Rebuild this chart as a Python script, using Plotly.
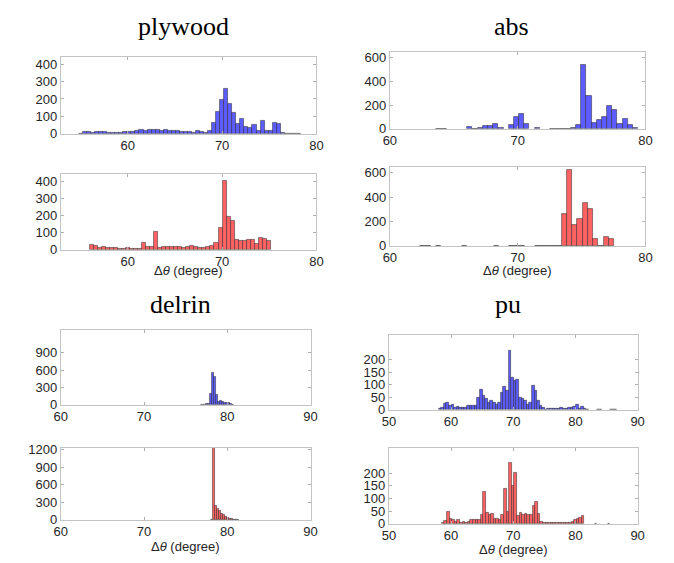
import plotly.graph_objects as go

# ---------------- data (histogram counts, bin start, bin width) ----------------
ply_blue_start, ply_blue_width = 54.8, 0.428
ply_blue = [3, 10, 9, 8, 12, 12, 9, 8, 8, 5, 8, 9, 10, 12, 18, 25, 20, 22, 24, 22,
            18, 25, 18, 15, 20, 14, 10, 12, 8, 15, 10, 8, 18,
            65, 127, 197, 259, 175, 122, 60, 88, 41, 37, 54, 20, 76, 15, 19, 61, 58, 7, 2,
            1, 1, 1]
ply_red_start, ply_red_width = 56.0, 0.425
ply_red = [32, 22, 12, 15, 10, 10, 10, 6, 6, 12, 8, 6, 8, 40, 15, 15, 105, 10, 15, 15,
           15, 15, 15, 10, 15, 22, 15, 10, 10, 15, 22, 40, 130, 405, 195, 168, 60, 50, 50, 58,
           60, 33, 72, 65, 50]

abs_blue_start, abs_blue_width = 62.0, 0.405
abs_blue = [0, 0, 0, 0, 2, 2, 0, 0, 0, 0, 15, 3, 8, 25, 25, 45, 10, 0, 30, 100,
            125, 40, 0, 10, 0, 0, 1, 1, 2, 3, 5, 35, 540, 280, 50, 80, 105, 190, 160, 45,
            85, 30, 5]
abs_red_start, abs_red_width = 61.95, 0.41
abs_red = [0, 3, 3, 0, 3, 0, 0, 0, 0, 3, 0, 0, 0, 0, 0, 3, 0, 0, 3, 3,
           3, 0, 0, 2, 2, 2, 2, 2, 260, 625, 175, 225, 350, 300, 55, 3, 70, 60]

delrin_blue_start, delrin_blue_width = 76.76, 0.24
delrin_blue = [5, 8, 10, 12, 20, 200, 550, 490, 180, 60, 70, 55, 35, 30, 35, 20, 8]
delrin_red_start, delrin_red_width = 78.0, 0.24
delrin_red = [5, 1260, 240, 190, 150, 110, 80, 55, 35, 20, 12, 8, 5, 3]

pu_blue_start, pu_blue_width = 57.97, 0.417
pu_blue = [5, 8, 25, 27, 15, 20, 8, 12, 10, 10, 8, 15, 17, 18, 18, 50, 80, 55, 43, 30,
           35, 28, 22, 30, 67, 92, 78, 237, 128, 118, 122, 47, 45, 35, 22, 30, 96, 78, 38, 15,
           8, 2, 3, 5, 4, 5, 3, 8, 5, 3, 8, 8, 12, 20, 5, 12, 3, 1,
           0, 0, 0, 1, 1, 0, 0, 0, 1, 1, 1]
pu_red_start, pu_red_width = 58.5, 0.417
pu_red = [3, 12, 48, 20, 18, 10, 15, 5, 8, 5, 8, 15, 17, 18, 17, 35, 128, 45, 35, 38,
          22, 22, 18, 35, 140, 47, 242, 150, 202, 30, 42, 35, 38, 37, 35, 72, 88, 40, 8, 5,
          5, 3, 5, 3, 3, 4, 4, 3, 4, 5, 8, 18, 20, 25, 30,
          0, 0, 0, 0, 1, 0, 0, 0, 0, 1]

materials = ["plywood", "abs", "delrin", "pu"]
x_ranges = {"plywood": [52.9, 80], "abs": [60, 80], "delrin": [60, 90], "pu": [50, 90]}
x_ticks = {"plywood": [60, 70, 80], "abs": [60, 70, 80], "delrin": [60, 70, 80, 90],
           "pu": [50, 60, 70, 80, 90]}
y_ranges_top = {"plywood": 443, "abs": 648, "delrin": 1300, "pu": 301}
y_ranges_bot = {"plywood": 443, "abs": 648, "delrin": 1228, "pu": 301}
y_ticks_top = {"plywood": [0, 100, 200, 300, 400], "abs": [0, 200, 400, 600],
               "delrin": [0, 300, 600, 900], "pu": [0, 50, 100, 150, 200]}
y_ticks_bot = {"plywood": [0, 100, 200, 300, 400], "abs": [0, 200, 400, 600],
               "delrin": [0, 300, 600, 900, 1200], "pu": [0, 50, 100, 150, 200]}

series = {
    "plywood": ((ply_blue_start, ply_blue_width, ply_blue), (ply_red_start, ply_red_width, ply_red)),
    "abs": ((abs_blue_start, abs_blue_width, abs_blue), (abs_red_start, abs_red_width, abs_red)),
    "delrin": ((delrin_blue_start, delrin_blue_width, delrin_blue),
               (delrin_red_start, delrin_red_width, delrin_red)),
    "pu": ((pu_blue_start, pu_blue_width, pu_blue), (pu_red_start, pu_red_width, pu_red)),
}

# ---------------- layout (pixel boxes) ----------------
W, H = 674, 563
boxes = {
    "plywood": ((55, 316, 52, 131), (55, 316, 172, 250)),
    "abs": ((391, 652, 47, 126), (391, 652, 165, 246)),
    "delrin": ((55, 310, 332, 409), (55, 310, 453, 527)),
    "pu": ((390, 644, 337, 414), (390, 644, 453, 531)),
}
title_pos = {"plywood": (180, 21), "abs": (515.5, 21), "delrin": (177, 306), "pu": (511.5, 306)}
xlabel_y = {"plywood": 271, "abs": 271, "delrin": 554, "pu": 557}

BLUE = "rgb(92,92,255)"
RED = "rgb(255,98,98)"
EDGE = "rgba(40,40,40,0.85)"
TICKFONT = dict(family="Liberation Sans, Arial, sans-serif", size=13, color="#262626")

fig = go.Figure()
layout = dict(width=W, height=H, margin=dict(l=0, r=0, t=0, b=0),
              paper_bgcolor="white", plot_bgcolor="white", showlegend=False,
              bargap=0, annotations=[])

idx = 0
for m in materials:
    for k, (start, width, counts) in enumerate(series[m]):
        idx += 1
        centers = [start + width * (i + 0.5) for i in range(len(counts))]
        shown = [c if c > 0 else None for c in counts]  # empty bins are not drawn
        color = BLUE if k == 0 else RED
        xa = "x" if idx == 1 else f"x{idx}"
        ya = "y" if idx == 1 else f"y{idx}"
        fig.add_trace(go.Bar(x=centers, y=shown, width=width, xaxis=xa, yaxis=ya,
                             marker=dict(color=color, line=dict(color=EDGE, width=0.6)),
                             hoverinfo="x+y"))
        x0, x1, y0, y1 = boxes[m][k]
        xkey = "xaxis" if idx == 1 else f"xaxis{idx}"
        ykey = "yaxis" if idx == 1 else f"yaxis{idx}"
        common = dict(showline=True, linecolor="#c4c4c4", linewidth=1, mirror="ticks",
                      ticks="inside", ticklen=3, tickcolor="#b0b0b0", showgrid=False,
                      zeroline=False, tickfont=TICKFONT, fixedrange=True)
        layout[xkey] = dict(domain=[x0 / W, x1 / W], anchor=ya,
                            range=x_ranges[m], tickvals=x_ticks[m],
                            ticktext=[str(v) for v in x_ticks[m]], **common)
        yr = y_ranges_top[m] if k == 0 else y_ranges_bot[m]
        yt = y_ticks_top[m] if k == 0 else y_ticks_bot[m]
        layout[ykey] = dict(domain=[1 - y1 / H, 1 - y0 / H], anchor=xa,
                            range=[0, yr], tickvals=yt, ticktext=[str(v) for v in yt],
                            **common)
        if k == 1:
            layout["annotations"].append(dict(
                text="Δ<i>θ</i> (degree)", xref="paper", yref="paper",
                x=((x0 + x1) / 2) / W, y=1 - xlabel_y[m] / H, xanchor="center",
                yanchor="middle", showarrow=False,
                font=dict(family="Liberation Sans, Arial, sans-serif", size=13, color="#262626")))
    tx, ty = title_pos[m]
    layout["annotations"].append(dict(
        text=m, xref="paper", yref="paper", x=tx / W, y=1 - ty / H,
        xanchor="center", yanchor="middle", showarrow=False,
        font=dict(family="Liberation Serif, Times New Roman, serif", size=26, color="black")))

fig.update_layout(**layout)
fig.write_html("out.html")
